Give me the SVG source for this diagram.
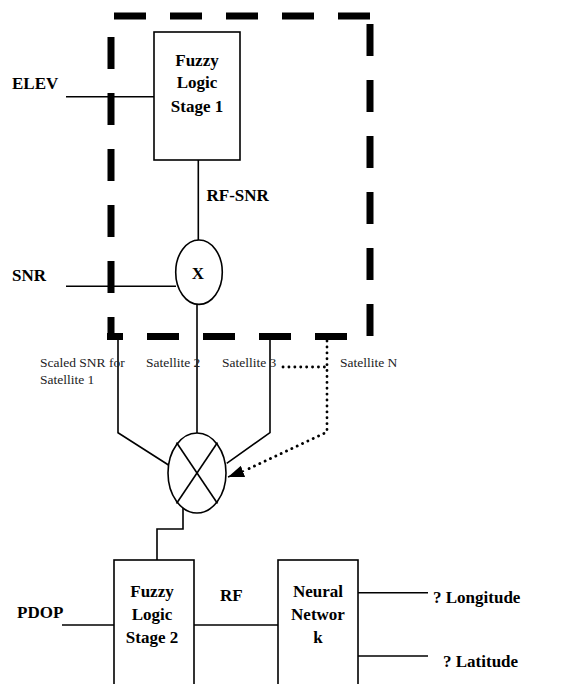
<svg xmlns="http://www.w3.org/2000/svg" width="561" height="684" viewBox="0 0 561 684">
<defs>
<style>
.ln{stroke:#000;stroke-width:1.6;fill:none}
.box{stroke:#000;stroke-width:1.6;fill:#fff}
.dash{stroke:#000;stroke-width:7;fill:none;stroke-dasharray:32 24}
.dot{stroke:#000;stroke-width:2.8;fill:none;stroke-dasharray:0.1 5.8;stroke-linecap:round}
.b{font-family:"Liberation Serif","Times New Roman",serif;font-weight:bold;font-size:17px;fill:#000}
.c{text-anchor:middle}
.s{font-family:"Liberation Serif","Times New Roman",serif;font-size:13.5px;fill:#222}
</style>
<marker id="ah" markerWidth="16" markerHeight="12" refX="16" refY="6" orient="auto" markerUnits="userSpaceOnUse">
<path d="M0,0 L16,6 L0,12 Z" fill="#000"/>
</marker>
</defs>
<rect width="561" height="684" fill="#fff"/>

<g id="boundary">
<line class="dash" x1="114" y1="16" x2="370" y2="16"/>
<line class="dash" x1="370" y1="24" x2="370" y2="340"/>
<line class="dash" x1="111" y1="37" x2="111" y2="340"/>
<line class="dash" x1="347" y1="336.5" x2="107" y2="336.5"/>
</g>

<g id="connectors">
<line class="ln" x1="66" y1="96.7" x2="154" y2="96.7"/>
<line class="ln" x1="198.3" y1="160" x2="198.3" y2="240"/>
<line class="ln" x1="66" y1="286.3" x2="176" y2="286.3"/>
<line class="ln" x1="197" y1="304" x2="197" y2="433"/>
<polyline class="ln" points="118,336 118,432.7 168.5,465"/>
<polyline class="ln" points="270,336 270,432.7 226.7,463.3"/>
<polyline class="ln" points="183,508 183,529 157,529 157,560"/>
<line class="ln" x1="62" y1="625" x2="114" y2="625"/>
<line class="ln" x1="194" y1="625" x2="278" y2="625"/>
<line class="ln" x1="358" y1="592.7" x2="428" y2="592.7"/>
<line class="ln" x1="358" y1="656" x2="428" y2="656"/>
<line class="dot" x1="283" y1="367" x2="327" y2="367"/>
<polyline class="dot" points="327,341 327,432 244,471"/>
<line class="ln" x1="244" y1="471" x2="228" y2="477" stroke-width="0" marker-end="url(#ah)"/>
</g>

<g id="fuzzy1">
<rect class="box" x="154" y="32" width="86" height="128"/>
<text class="b c" x="197" y="66" font-size="18">Fuzzy</text>
<text class="b c" x="197" y="88" font-size="18">Logic</text>
<text class="b c" x="197" y="112" font-size="18">Stage 1</text>
</g>

<g id="mult1">
<ellipse class="box" cx="199" cy="272.2" rx="23.3" ry="32.2"/>
<text class="b c" x="198" y="279" font-size="14">X</text>
</g>

<g id="mixer">
<ellipse class="box" cx="197" cy="473" rx="29" ry="40"/>
<line class="ln" x1="176.5" y1="442.5" x2="217.5" y2="503.5"/>
<line class="ln" x1="217.5" y1="442.5" x2="176.5" y2="503.5"/>
</g>

<g id="fuzzy2">
<rect class="box" x="114" y="560" width="80" height="140"/>
<text class="b c" x="152" y="597">Fuzzy</text>
<text class="b c" x="152" y="620">Logic</text>
<text class="b c" x="152" y="643">Stage 2</text>
</g>

<g id="nn">
<rect class="box" x="278" y="560" width="80" height="140"/>
<text class="b c" x="318" y="597">Neural</text>
<text class="b c" x="318" y="620">Networ</text>
<text class="b c" x="318" y="643">k</text>
</g>

<g id="labels">
<text class="b" x="12" y="89" font-size="16">ELEV</text>
<text class="b" x="206.5" y="201" font-size="18">RF-SNR</text>
<text class="b" x="12" y="281">SNR</text>
<text class="s" x="40" y="367">Scaled SNR for</text>
<text class="s" x="40" y="384">Satellite 1</text>
<text class="s" x="146" y="367">Satellite 2</text>
<text class="s" x="222" y="367">Satellite 3</text>
<text class="s" x="340" y="367">Satellite N</text>
<text class="b" x="17" y="618">PDOP</text>
<text class="b" x="220" y="601">RF</text>
<text class="b" x="433" y="603">? Longitude</text>
<text class="b" x="443" y="667">? Latitude</text>
</g>
</svg>
